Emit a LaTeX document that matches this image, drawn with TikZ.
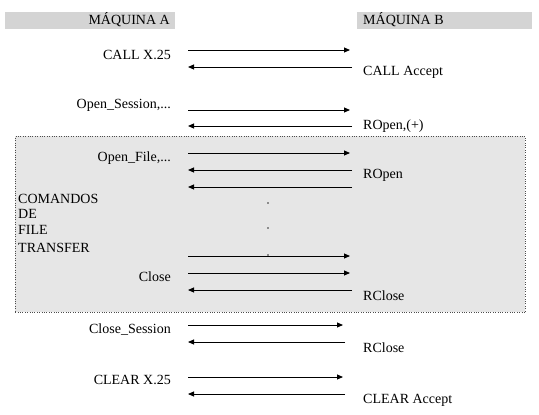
\documentclass[tikz,border=0pt]{standalone}
\usepackage{fontspec}
\setmainfont{Liberation Serif}
\usepackage{tikz}
\usetikzlibrary{arrows.meta,positioning,calc}
\definecolor{headgray}{HTML}{D4D4D4}
\definecolor{boxgray}{HTML}{E6E6E6}
\tikzset{
  headbar/.style={fill=headgray,draw=none,minimum height=17pt,inner sep=0pt},
  msgleft/.style={anchor=east,inner sep=1pt,font=\fontsize{14}{16}\selectfont},
  msgright/.style={anchor=west,inner sep=1pt,font=\fontsize{14}{16}\selectfont},
  sidetext/.style={anchor=west,inner sep=1pt,font=\fontsize{14}{16}\selectfont},
  msgarrow/.style={-{Triangle[length=6pt,width=5pt]},line width=0.9pt},
  dotmark/.style={fill=black!45,draw=none,minimum size=2pt,inner sep=0pt}
}
\begin{document}
\begin{tikzpicture}[x=1pt,y=-1pt]
  \useasboundingbox (0,0) rectangle (539,415);
  % headers
  \node[headbar,minimum width=170pt,anchor=north west] (barA) at (5,12) {};
  \node[headbar,minimum width=175pt,anchor=north west] (barB) at (357,12) {};
  \node[msgleft] (headA) at (171,20) {MÁQUINA A};
  \node[msgright] (headB) at (362,20) {MÁQUINA B};
  % file transfer block
  \node[fill=boxgray,draw=black!70,dotted,minimum width=510pt,minimum height=176pt,
    anchor=north west,inner sep=0pt] (ftbox) at (15,136) {};
  % arrow end points
  \foreach \n/\y/\e in {c1/50/350,c2/67/352,s1/110/350,s2/126/352,
      f1/153/350,f2/170/352,f3/187/352,f4/256/350,k1/273/350,k2/290/352,
      e1/325/343,e2/342/345,x1/377/343,x2/394/345}{
    \coordinate (\n L) at (188,\y);
    \coordinate (\n R) at (\e,\y);
  }
  % labels
  \node[msgleft] (call) at (172,55) {CALL X.25};
  \node[msgright] (accept) at (362,72) {CALL Accept};
  \node[msgleft] (opensess) at (172,105) {Open\_Session,...};
  \node[msgright] (ropenplus) at (362,126) {ROpen,(+)};
  \node[msgleft] (openfile) at (172,158) {Open\_File,...};
  \node[msgright] (ropen) at (362,175) {ROpen};
  \node[sidetext] (cmd1) at (17,199) {COMANDOS};
  \node[sidetext] (cmd2) at (17,214) {DE};
  \node[sidetext] (cmd3) at (17,230) {FILE};
  \node[sidetext] (cmd4) at (17,248) {TRANSFER};
  \node[msgleft] (close) at (172,277) {Close};
  \node[msgright] (rclose) at (362,296) {RClose};
  \node[msgleft] (closesess) at (172,330) {Close\_Session};
  \node[msgright] (rclose2) at (362,348) {RClose};
  \node[msgleft] (clear) at (172,380) {CLEAR X.25};
  \node[msgright] (clearacc) at (362,400) {CLEAR Accept};
  % dots
  \node[dotmark] (d1) at (268,203) {};
  \node[dotmark] (d2) at (268,228) {};
  \node[dotmark] (d3) at (268,255) {};
  % messages
  \draw[msgarrow] (c1L) -- (c1R);
  \draw[msgarrow] (c2R) -- (c2L);
  \draw[msgarrow] (s1L) -- (s1R);
  \draw[msgarrow] (s2R) -- (s2L);
  \draw[msgarrow] (f1L) -- (f1R);
  \draw[msgarrow] (f2R) -- (f2L);
  \draw[msgarrow] (f3R) -- (f3L);
  \draw[msgarrow] (f4L) -- (f4R);
  \draw[msgarrow] (k1L) -- (k1R);
  \draw[msgarrow] (k2R) -- (k2L);
  \draw[msgarrow] (e1L) -- (e1R);
  \draw[msgarrow] (e2R) -- (e2L);
  \draw[msgarrow] (x1L) -- (x1R);
  \draw[msgarrow] (x2R) -- (x2L);
\end{tikzpicture}
\end{document}
